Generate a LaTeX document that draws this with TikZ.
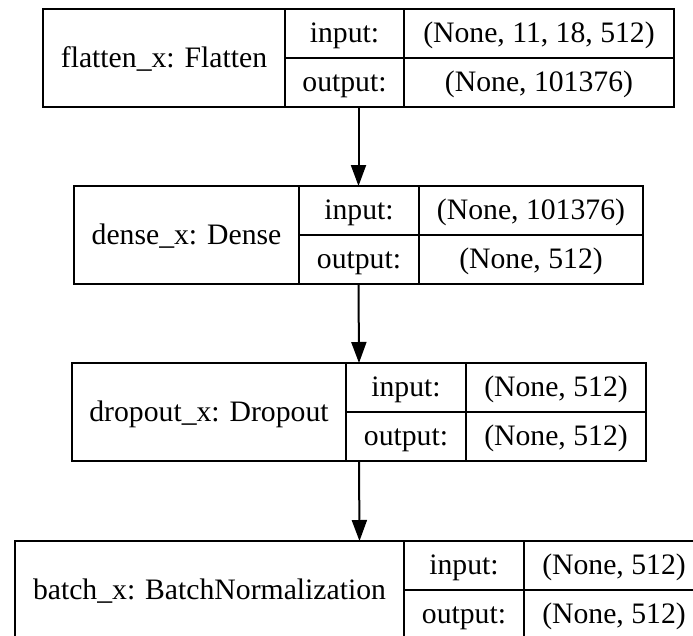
\documentclass[tikz,border=0pt]{standalone}
\usepackage{fontspec}
\setmainfont{Liberation Serif}
\usetikzlibrary{arrows.meta}
\tikzset{
  cell/.style={draw=black, line width=2pt, inner sep=0pt, anchor=center,
    text height=25pt, text depth=7pt,
    font=\fontsize{29.7}{32}\selectfont},
  frame/.style={inner sep=0pt, outer sep=0pt, anchor=center},
  flow/.style={line width=2pt, -{Triangle[length=21pt, width=15pt]}}
}
\newcommand\mylayer[9]{%
  \pgfmathsetmacro\wa{#3-#2}\pgfmathsetmacro\wb{#4-#3}\pgfmathsetmacro\wc{#5-#4}%
  \pgfmathsetmacro\wt{#5-#2}%
  \pgfmathsetmacro\ca{(#2+#3)/2}\pgfmathsetmacro\cb{(#3+#4)/2}\pgfmathsetmacro\cc{(#4+#5)/2}%
  \pgfmathsetmacro\cx{(#2+#5)/2}%
  \node[frame, minimum width=\wt pt, minimum height=98pt] (#1) at (\cx,#6+49) {};
  \node[cell, minimum width=\wa pt, minimum height=98pt] (#1name) at (\ca,#6+49) {#7};
  \node[cell, minimum width=\wb pt, minimum height=49pt] (#1inl) at (\cb,#6+24.5) {input:};
  \node[cell, minimum width=\wb pt, minimum height=49pt] (#1outl) at (\cb,#6+73.5) {output:};
  \node[cell, minimum width=\wc pt, minimum height=49pt] (#1inv) at (\cc,#6+24.5) {#8};
  \node[cell, minimum width=\wc pt, minimum height=49pt] (#1outv) at (\cc,#6+73.5) {#9};
}
\begin{document}
\begin{tikzpicture}[x=1pt,y=-1pt]
  \useasboundingbox (0,0) rectangle (693,635);
  \clip (0,0) rectangle (693,635);
  \mylayer{flat}{43}{285}{404}{674}{9}{flatten\_x: Flatten}{(None, 11, 18, 512)}{(None, 101376)}
  \mylayer{dense}{74}{299}{419}{643}{186}{dense\_x: Dense}{(None, 101376)}{(None, 512)}
  \mylayer{drop}{72}{346}{466}{646}{363}{dropout\_x: Dropout}{(None, 512)}{(None, 512)}
  \mylayer{batch}{15}{404}{524}{704}{541}{batch\_x: BatchNormalization}{(None, 512)}{(None, 512)}
  \draw[flow] (flat.south) -- (dense.north);
  \draw[flow] (dense.south) -- (drop.north);
  \draw[flow] (drop.south) -- (batch.north);
\end{tikzpicture}
\end{document}
